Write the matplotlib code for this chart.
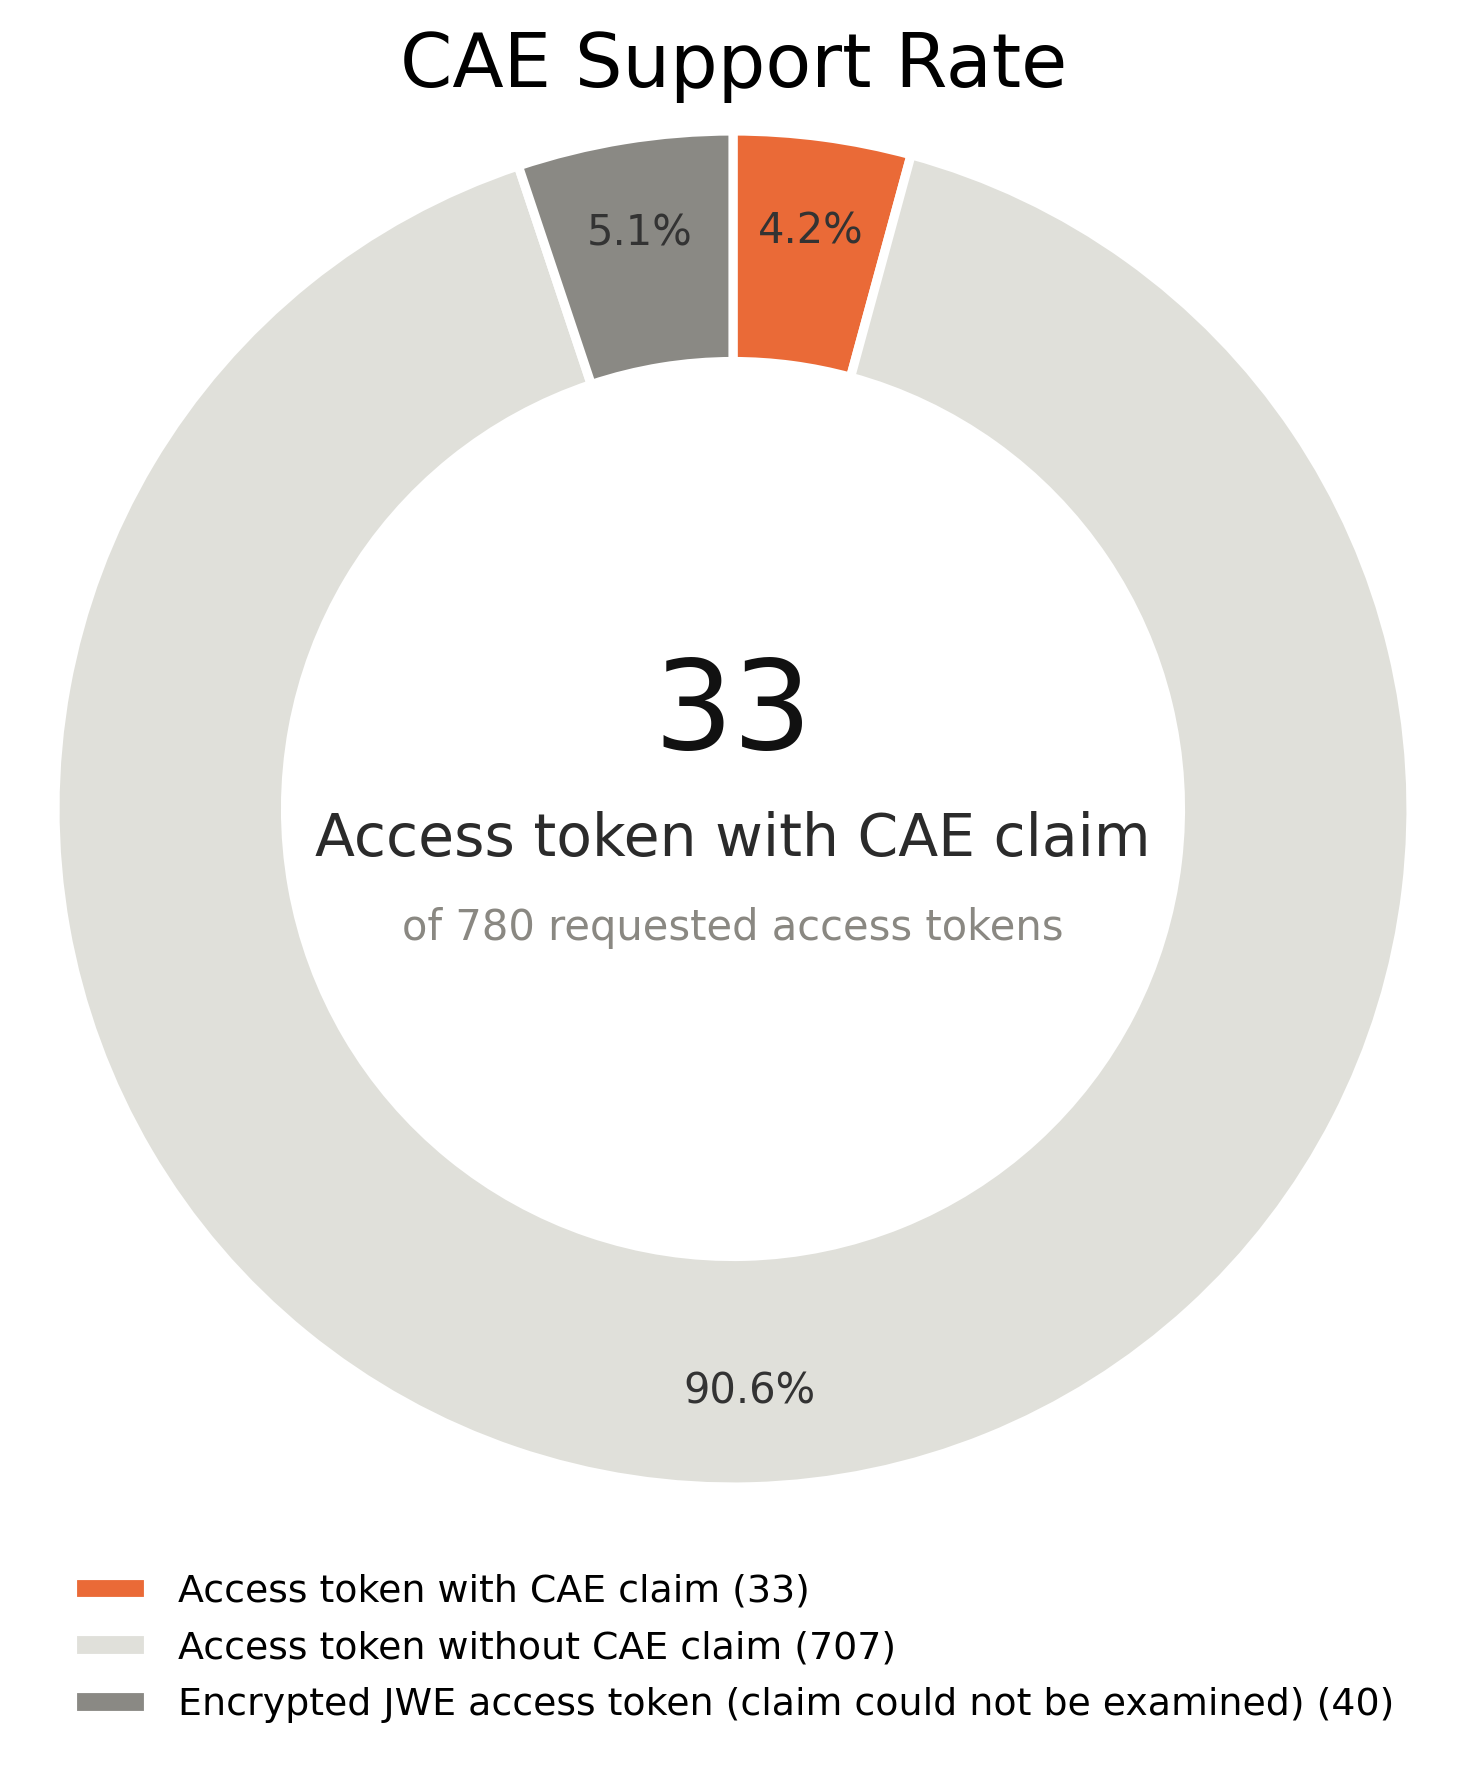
import numpy as np
import matplotlib
matplotlib.use("Agg")
import matplotlib.pyplot as plt

# data
labels = ["Access token with CAE claim",
          "Access token without CAE claim",
          "Encrypted JWE access token (claim could not be examined)"]
counts = [33, 707, 40]
colors = ["#EA6A37", "#E0E0DA", "#8A8984"]
total = sum(counts)

fig = plt.figure(figsize=(1467 / 300, 1770 / 300), dpi=300)
# donut axes placed by hand (center ~ (733, 809) px, radius ~678 px)
R = 678
cx, cy = 733, 809
ax = fig.add_axes([(cx - R) / 1467, (1770 - cy - R) / 1770, 2 * R / 1467, 2 * R / 1770])

wedges, texts, autotexts = ax.pie(
    counts, colors=colors, startangle=90, counterclock=False,
    autopct="%1.1f%%", pctdistance=0.86,
    wedgeprops=dict(width=0.34, edgecolor="white", linewidth=2.2),
    textprops=dict(fontsize=10, color="#333333"))
ax.set_xlim(-1, 1)
ax.set_ylim(-1, 1)
ax.set_aspect("equal")
ax.axis("off")

# center text
ax.text(0, 0.14, str(counts[0]), ha="center", va="center", fontsize=30, color="#111111")
ax.text(0, -0.045, labels[0], ha="center", va="center", fontsize=14, color="#2b2b2b")
ax.text(0, -0.175, "of %d requested access tokens" % total, ha="center", va="center",
        fontsize=10, color="#8a8882")

fig.text(0.5, 1 - 87 / 1770, "CAE Support Rate", ha="center", va="baseline",
         fontsize=18, color="black")

leg_labels = ["%s (%d)" % (l, c) for l, c in zip(labels, counts)]
fig.legend(wedges, leg_labels, loc="center", bbox_to_anchor=(0.5, 1 - 1648 / 1770),
           frameon=False, fontsize=9.1, handlelength=2.0, handleheight=0.7,
           labelspacing=0.55)

fig.savefig("out.png", dpi=300)
